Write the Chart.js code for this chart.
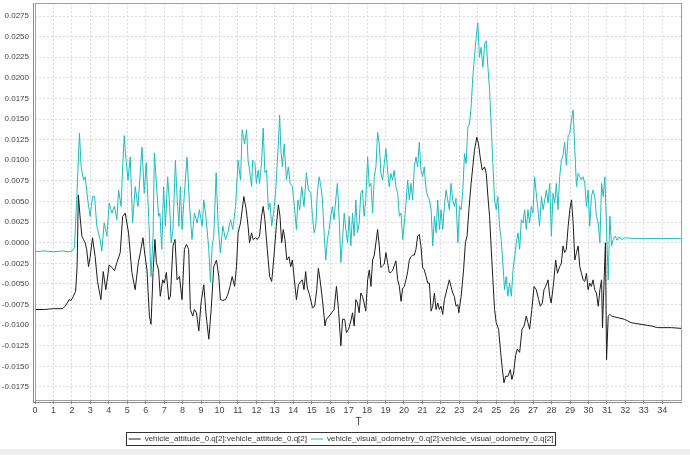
<!DOCTYPE html>
<html>
<head>
<meta charset="utf-8">
<script src="https://cdn.jsdelivr.net/npm/chart.js@4/dist/chart.umd.min.js"></script>
<style>
    body { margin: 0; background: #eeeeee; }
    canvas { display: block; background: #ffffff; }
</style>
</head>
<body>
<canvas id="chart" width="690" height="455"></canvas>
<script>
// Series labels
var labelAtt = 'vehicle_attitude_0.q[2]:vehicle_attitude_0.q[2]';
var labelVo = 'vehicle_visual_odometry_0.q[2]:vehicle_visual_odometry_0.q[2]';

// Tick labels
var xTicks = [0, 1, 2, 3, 4, 5, 6, 7, 8, 9, 10, 11, 12, 13, 14, 15, 16, 17, 18, 19, 20, 21, 22, 23, 24, 25, 26, 27, 28, 29, 30, 31, 32, 33, 34];
var yTicks = [-0.0175, -0.015, -0.0125, -0.01, -0.0075, -0.005, -0.0025, 0, 0.0025, 0.005, 0.0075, 0.01, 0.0125, 0.015, 0.0175, 0.02, 0.0225, 0.025, 0.0275];

// vehicle_attitude_0.q[2] (T, value)
var attT = [0, 0.5, 1.0, 1.5, 1.63, 1.75, 1.85, 1.95, 2.08, 2.2, 2.28, 2.35, 2.45, 2.54, 2.63, 2.72, 2.8, 2.9, 2.99, 3.12,
    3.26, 3.39, 3.57, 3.7, 3.84, 4.02, 4.17, 4.31, 4.44, 4.62, 4.75, 4.89, 5.07, 5.25, 5.43, 5.6, 5.71, 5.85, 5.97, 6.07,
    6.2, 6.29, 6.4, 6.5, 6.58, 6.7, 6.79, 6.92, 7.01, 7.12, 7.25, 7.34, 7.48, 7.59, 7.7, 7.83, 7.97, 8.1, 8.21, 8.33,
    8.42, 8.55, 8.64, 8.75, 8.88, 9.0, 9.15, 9.28, 9.42, 9.55, 9.69, 9.84, 9.96, 10.05, 10.18, 10.33, 10.45, 10.57, 10.69, 10.82,
    10.92, 11.01, 11.14, 11.23, 11.32, 11.45, 11.55, 11.63, 11.74, 11.82, 11.96, 12.05, 12.17, 12.28, 12.37, 12.46, 12.59, 12.72, 12.83, 12.95,
    13.08, 13.19, 13.28, 13.37, 13.46, 13.55, 13.65, 13.77, 13.86, 13.95, 14.06, 14.17, 14.28, 14.4, 14.49, 14.58, 14.67, 14.76, 14.88, 15.04,
    15.16, 15.27, 15.36, 15.45, 15.58, 15.72, 15.79, 15.94, 16.08, 16.21, 16.34, 16.45, 16.58, 16.67, 16.79, 16.88, 17.0, 17.12, 17.21, 17.3,
    17.39, 17.48, 17.57, 17.66, 17.75, 17.84, 17.93, 18.03, 18.12, 18.21, 18.3, 18.39, 18.48, 18.57, 18.66, 18.75, 18.84, 18.93, 19.02, 19.11,
    19.2, 19.29, 19.38, 19.47, 19.56, 19.66, 19.75, 19.84, 19.93, 20.02, 20.11, 20.2, 20.29, 20.38, 20.47, 20.56, 20.65, 20.74, 20.83, 20.92,
    21.01, 21.1, 21.2, 21.29, 21.38, 21.47, 21.56, 21.65, 21.74, 21.83, 21.92, 22.01, 22.1, 22.19, 22.28, 22.37, 22.46, 22.55, 22.64, 22.73,
    22.82, 22.92, 22.97, 23.1, 23.23, 23.33, 23.42, 23.52, 23.64, 23.73, 23.82, 23.95, 24.04, 24.13, 24.24, 24.37, 24.46, 24.55, 24.64, 24.73,
    24.82, 24.91, 25.0, 25.13, 25.24, 25.33, 25.42, 25.51, 25.64, 25.76, 25.85, 25.94, 26.05, 26.14, 26.27, 26.4, 26.51, 26.63, 26.72, 26.81,
    26.93, 27.05, 27.17, 27.3, 27.39, 27.5, 27.59, 27.68, 27.81, 27.9, 27.98, 28.11, 28.22, 28.32, 28.44, 28.53, 28.62, 28.71, 28.8, 28.9,
    28.99, 29.08, 29.17, 29.26, 29.35, 29.44, 29.53, 29.62, 29.71, 29.8, 29.89, 29.98, 30.07, 30.16, 30.25, 30.34, 30.43, 30.53, 30.62, 30.71,
    30.76, 30.83, 30.92, 30.98, 31.07, 31.16, 31.25, 31.6, 31.97, 32.3, 32.85, 33.4, 33.75, 34.5, 35.07];
var attQ = [-0.0081, -0.0081, -0.0080, -0.0080, -0.0077, -0.0073, -0.0069, -0.0070, -0.0065, -0.0059, -0.0030, 0.0058, 0.0030, 0.0008, 0.0004, 0.0000, -0.0008, -0.0029, -0.0017, 0.0006,
    -0.0017, -0.0047, -0.0069, -0.0035, -0.0057, -0.0027, -0.0030, -0.0034, -0.0024, -0.0012, 0.0032, 0.0036, 0.0012, -0.0036, -0.0057, -0.0024, -0.0012, 0.0006, -0.0017, -0.0033,
    -0.0089, -0.0099, -0.0036, 0.0004, -0.0024, -0.0033, -0.0065, -0.0045, -0.0049, -0.0036, -0.0069, -0.0065, -0.0004, 0.0004, -0.0045, -0.0041, -0.0069, -0.0008, -0.0002, -0.0008,
    -0.0081, -0.0089, -0.0081, -0.0085, -0.0107, -0.0073, -0.0051, -0.0089, -0.0117, -0.0081, -0.0029, -0.0021, -0.0041, -0.0069, -0.0070, -0.0069, -0.0063, -0.0053, -0.0041, -0.0053,
    -0.0029, 0.0012, 0.0024, 0.0040, 0.0056, 0.0040, 0.0020, 0.0000, 0.0012, 0.0004, 0.0006, 0.0004, 0.0008, 0.0032, 0.0044, 0.0028, -0.0008, -0.0041, -0.0047, -0.0017,
    0.0020, 0.0046, 0.0032, 0.0000, 0.0016, 0.0004, -0.0021, -0.0017, -0.0029, -0.0021, -0.0045, -0.0069, -0.0051, -0.0047, -0.0045, -0.0057, -0.0035, -0.0055, -0.0063, -0.0079,
    -0.0077, -0.0057, -0.0031, -0.0045, -0.0069, -0.0101, -0.0093, -0.0089, -0.0085, -0.0081, -0.0053, -0.0081, -0.0125, -0.0093, -0.0093, -0.0109, -0.0105, -0.0095, -0.0085, -0.0101,
    -0.0069, -0.0073, -0.0085, -0.0061, -0.0065, -0.0073, -0.0083, -0.0045, -0.0033, -0.0053, -0.0021, -0.0015, 0.0000, 0.0016, -0.0004, -0.0030, -0.0028, -0.0026, -0.0012, -0.0024,
    -0.0036, -0.0036, -0.0034, -0.0028, -0.0022, -0.0045, -0.0053, -0.0071, -0.0055, -0.0053, -0.0045, -0.0035, -0.0021, -0.0017, -0.0015, -0.0015, -0.0008, 0.0008, 0.0010, -0.0004,
    -0.0030, -0.0033, -0.0041, -0.0049, -0.0049, -0.0083, -0.0077, -0.0061, -0.0081, -0.0073, -0.0081, -0.0077, -0.0087, -0.0069, -0.0061, -0.0053, -0.0045, -0.0053, -0.0061, -0.0065,
    -0.0077, -0.0075, -0.0085, -0.0065, -0.0033, 0.0000, 0.0008, 0.0040, 0.0072, 0.0092, 0.0112, 0.0128, 0.0120, 0.0104, 0.0088, 0.0092, 0.0084, 0.0056, 0.0032, -0.0008,
    -0.0045, -0.0081, -0.0097, -0.0105, -0.0133, -0.0153, -0.0170, -0.0162, -0.0162, -0.0154, -0.0166, -0.0158, -0.0137, -0.0129, -0.0133, -0.0105, -0.0101, -0.0089, -0.0097, -0.0105,
    -0.0081, -0.0053, -0.0057, -0.0069, -0.0077, -0.0073, -0.0057, -0.0053, -0.0045, -0.0065, -0.0073, -0.0049, -0.0021, -0.0037, -0.0029, -0.0025, -0.0004, -0.0012, -0.0008, 0.0020,
    0.0040, 0.0052, 0.0024, -0.0021, -0.0012, -0.0004, -0.0029, -0.0037, -0.0045, -0.0047, -0.0037, -0.0057, -0.0049, -0.0053, -0.0045, -0.0057, -0.0061, -0.0077, -0.0057, -0.0045,
    -0.0103, -0.0057, 0.0000, -0.0142, -0.0089, -0.0087, -0.0089, -0.0091, -0.0093, -0.0097, -0.0099, -0.0101, -0.0103, -0.0103, -0.0104];

// vehicle_visual_odometry_0.q[2] (T, value)
var voT = [0, 0.5, 1.0, 1.5, 1.8, 2.0, 2.14, 2.26, 2.41, 2.5, 2.63, 2.72, 2.86, 2.99, 3.12, 3.23, 3.35, 3.53, 3.62, 3.75,
    3.9, 4.02, 4.17, 4.31, 4.44, 4.53, 4.67, 4.75, 4.84, 4.9, 5.04, 5.16, 5.29, 5.43, 5.58, 5.8, 5.92, 6.03, 6.16, 6.29,
    6.4, 6.47, 6.58, 6.7, 6.77, 6.87, 6.97, 7.07, 7.19, 7.3, 7.38, 7.48, 7.61, 7.7, 7.8, 7.88, 7.97, 8.1, 8.24, 8.37,
    8.51, 8.64, 8.79, 8.91, 9.06, 9.15, 9.28, 9.42, 9.51, 9.6, 9.69, 9.82, 9.93, 10.05, 10.18, 10.33, 10.45, 10.6, 10.72, 10.87,
    11.01, 11.14, 11.23, 11.36, 11.47, 11.55, 11.63, 11.74, 11.8, 11.92, 12.0, 12.1, 12.17, 12.28, 12.37, 12.46, 12.55, 12.65, 12.74, 12.83,
    12.95, 13.04, 13.13, 13.2, 13.26, 13.33, 13.41, 13.51, 13.63, 13.73, 13.83, 13.95, 14.06, 14.17, 14.25, 14.35, 14.46, 14.58, 14.71, 14.82,
    14.95, 15.04, 15.13, 15.22, 15.3, 15.4, 15.5, 15.58, 15.67, 15.76, 15.85, 15.94, 16.03, 16.12, 16.21, 16.3, 16.39, 16.49, 16.58, 16.67,
    16.76, 16.85, 16.94, 17.03, 17.12, 17.21, 17.3, 17.39, 17.48, 17.57, 17.66, 17.75, 17.84, 17.93, 18.03, 18.12, 18.21, 18.3, 18.39, 18.48,
    18.57, 18.66, 18.75, 18.84, 18.93, 19.02, 19.11, 19.2, 19.29, 19.38, 19.47, 19.56, 19.66, 19.75, 19.84, 19.93, 20.02, 20.11, 20.2, 20.29,
    20.38, 20.47, 20.56, 20.65, 20.74, 20.83, 20.92, 21.01, 21.1, 21.2, 21.29, 21.38, 21.47, 21.56, 21.65, 21.74, 21.83, 21.92, 22.01, 22.1,
    22.19, 22.28, 22.37, 22.46, 22.55, 22.64, 22.73, 22.82, 22.92, 23.01, 23.1, 23.19, 23.28, 23.37, 23.46, 23.55, 23.64, 23.73, 23.82, 23.91,
    24.0, 24.09, 24.18, 24.28, 24.37, 24.46, 24.55, 24.64, 24.73, 24.82, 24.91, 25.0, 25.09, 25.18, 25.27, 25.36, 25.45, 25.54, 25.63, 25.72,
    25.82, 25.91, 26.0, 26.09, 26.18, 26.27, 26.36, 26.45, 26.54, 26.63, 26.72, 26.81, 26.9, 26.99, 27.08, 27.17, 27.26, 27.35, 27.45, 27.54,
    27.63, 27.72, 27.81, 27.9, 27.99, 28.08, 28.17, 28.26, 28.35, 28.44, 28.53, 28.62, 28.71, 28.8, 28.9, 28.99, 29.08, 29.17, 29.26, 29.35,
    29.44, 29.53, 29.62, 29.71, 29.8, 29.89, 29.98, 30.07, 30.16, 30.25, 30.34, 30.43, 30.53, 30.62, 30.71, 30.8, 30.89, 30.98, 31.07, 31.16,
    31.25, 31.34, 31.45, 31.55, 31.65, 31.8, 32.0, 32.5, 33.0, 34.0, 35.07];
var voQ = [-0.0011, -0.0010, -0.0011, -0.0010, -0.0011, -0.0010, -0.0006, 0.0052, 0.0133, 0.0092, 0.0076, 0.0080, 0.0052, 0.0032, 0.0056, 0.0056, 0.0020, 0.0004, -0.0010, 0.0024,
    0.0008, 0.0048, 0.0036, 0.0044, 0.0028, 0.0064, 0.0044, 0.0092, 0.0130, 0.0109, 0.0076, 0.0104, 0.0024, 0.0068, 0.0044, 0.0116, 0.0060, 0.0097, 0.0032, -0.0041,
    0.0008, 0.0109, 0.0072, 0.0032, 0.0036, -0.0008, 0.0068, 0.0020, 0.0080, 0.0044, 0.0000, 0.0016, 0.0100, 0.0056, 0.0020, 0.0068, 0.0016, 0.0060, 0.0104, 0.0048,
    0.0004, 0.0036, 0.0024, 0.0040, 0.0020, 0.0052, 0.0028, -0.0008, -0.0048, -0.0004, 0.0008, 0.0085, 0.0020, -0.0012, 0.0020, 0.0004, 0.0012, 0.0028, 0.0016, 0.0044,
    0.0100, 0.0076, 0.0137, 0.0120, 0.0137, 0.0100, 0.0088, 0.0068, 0.0100, 0.0097, 0.0072, 0.0088, 0.0072, 0.0097, 0.0139, 0.0085, 0.0088, 0.0040, 0.0048, 0.0020,
    0.0040, 0.0060, 0.0097, 0.0124, 0.0155, 0.0112, 0.0092, 0.0120, 0.0076, 0.0092, 0.0072, 0.0068, 0.0044, 0.0016, 0.0052, 0.0040, 0.0068, 0.0044, 0.0085, 0.0064,
    0.0060, 0.0032, 0.0012, 0.0020, 0.0060, 0.0080, 0.0068, 0.0052, 0.0012, -0.0021, 0.0004, 0.0016, 0.0032, 0.0044, 0.0028, 0.0052, 0.0072, 0.0028, -0.0024, 0.0004,
    0.0036, 0.0016, 0.0000, 0.0032, -0.0004, 0.0036, 0.0008, 0.0052, 0.0012, 0.0024, 0.0060, 0.0064, 0.0032, 0.0052, 0.0104, 0.0068, 0.0072, 0.0036, 0.0080, 0.0092,
    0.0134, 0.0120, 0.0084, 0.0076, 0.0096, 0.0114, 0.0088, 0.0068, 0.0084, 0.0076, 0.0088, 0.0068, 0.0060, 0.0032, 0.0036, 0.0004, 0.0024, 0.0048, 0.0076, 0.0052,
    0.0072, 0.0052, 0.0092, 0.0104, 0.0092, 0.0122, 0.0088, 0.0080, 0.0092, 0.0064, 0.0056, 0.0052, 0.0040, -0.0004, 0.0032, 0.0012, 0.0052, 0.0016, 0.0040, 0.0016,
    0.0044, 0.0064, 0.0052, 0.0040, 0.0072, 0.0052, 0.0044, 0.0054, 0.0000, 0.0044, 0.0040, 0.0064, 0.0108, 0.0096, 0.0140, 0.0144, 0.0165, 0.0201, 0.0225, 0.0249,
    0.0267, 0.0225, 0.0237, 0.0213, 0.0241, 0.0245, 0.0213, 0.0185, 0.0140, 0.0096, 0.0052, 0.0040, 0.0056, 0.0020, 0.0004, -0.0025, -0.0057, -0.0041, -0.0065, -0.0049,
    -0.0065, -0.0033, -0.0017, 0.0000, 0.0012, -0.0008, 0.0028, 0.0024, 0.0040, 0.0016, 0.0040, 0.0024, 0.0044, 0.0036, 0.0080, 0.0060, 0.0040, 0.0020, 0.0056, 0.0040,
    0.0052, 0.0064, 0.0048, 0.0072, 0.0008, 0.0060, 0.0048, 0.0072, 0.0040, 0.0080, 0.0100, 0.0106, 0.0122, 0.0094, 0.0130, 0.0133, 0.0149, 0.0161, 0.0113, 0.0068,
    0.0084, 0.0080, 0.0076, 0.0080, 0.0072, 0.0044, 0.0064, 0.0020, 0.0056, 0.0064, 0.0056, 0.0032, 0.0024, 0.0000, 0.0072, 0.0056, 0.0080, 0.0016, -0.0045, 0.0032,
    -0.0004, 0.0004, 0.0008, 0.0003, 0.0007, 0.0004, 0.0006, 0.0005, 0.0005, 0.0005, 0.0005];

var fontFamily = '"Liberation Sans", Arial, sans-serif';

// Build points
function toPoints(ts, vs) {
    return ts.map(function (t, i) { return { x: t, y: vs[i] }; });
}

// Plot frame, axis lines and the grey window strip at the bottom
var framePlugin = {
    id: 'frame',
    afterDatasetsDraw: function (chart) {
        var a = chart.chartArea;
        var ctx = chart.ctx;
        ctx.save();
        ctx.lineWidth = 1;
        ctx.strokeStyle = '#a0a0a0';
        ctx.strokeRect(a.left + 0.5, a.top + 0.5, a.right - a.left - 1, a.bottom - a.top - 1);
        ctx.strokeStyle = '#8c8c8c';
        ctx.beginPath();
        ctx.moveTo(a.left - 1.5, a.top);
        ctx.lineTo(a.left - 1.5, a.bottom + 2);
        ctx.moveTo(a.left - 1.5, a.bottom + 1.5);
        ctx.lineTo(a.right, a.bottom + 1.5);
        ctx.stroke();
        ctx.restore();
    },
    afterDraw: function (chart) {
        var ctx = chart.ctx;
        ctx.save();
        ctx.fillStyle = '#eeeeee';
        ctx.fillRect(0, 449, chart.width, chart.height - 449);
        ctx.restore();
    }
};

// Border round the legend
var legendBoxPlugin = {
    id: 'legendBox',
    afterDraw: function (chart) {
        var boxes = chart.legend.legendHitBoxes;
        if (!boxes || !boxes.length) return;
        var left = Infinity, right = -Infinity, top = Infinity, bottom = -Infinity;
        boxes.forEach(function (b) {
            left = Math.min(left, b.left);
            right = Math.max(right, b.left + b.width);
            top = Math.min(top, b.top);
            bottom = Math.max(bottom, b.top + b.height);
        });
        var ctx = chart.ctx;
        ctx.save();
        ctx.lineWidth = 1;
        ctx.strokeStyle = '#333333';
        ctx.strokeRect(Math.round(left) - 2.5, Math.round(top) - 2.5, Math.round(right - left) + 4, Math.round(bottom - top) + 5);
        ctx.restore();
    }
};

new Chart(document.getElementById('chart').getContext('2d'), {
    type: 'line',
    data: {
        datasets: [{
            label: labelAtt,
            data: toPoints(attT, attQ),
            borderColor: '#1c1c1c',
            backgroundColor: '#1c1c1c',
            borderWidth: 1,
            pointRadius: 0,
            pointStyle: 'line',
            tension: 0
        }, {
            label: labelVo,
            data: toPoints(voT, voQ),
            borderColor: '#1cbcbf',
            backgroundColor: '#1cbcbf',
            borderWidth: 1,
            pointRadius: 0,
            pointStyle: 'line',
            tension: 0
        }]
    },
    options: {
        responsive: false,
        animation: false,
        events: [],
        layout: {
            padding: { left: 0, right: 8, top: 3, bottom: 2 }
        },
        plugins: {
            tooltip: { enabled: false },
            legend: {
                position: 'bottom',
                labels: {
                    usePointStyle: true,
                    pointStyleWidth: 12,
                    padding: 4,
                    color: '#333333',
                    font: { family: fontFamily, size: 8 }
                }
            }
        },
        scales: {
            x: {
                type: 'linear',
                min: 0,
                max: 35.07,
                afterBuildTicks: function (scale) {
                    scale.ticks = xTicks.map(function (v) { return { value: v }; });
                },
                afterFit: function (scale) {
                    scale.height = 30;
                    scale.paddingLeft = 0;
                    scale.paddingRight = 0;
                },
                ticks: {
                    autoSkip: false,
                    maxRotation: 0,
                    padding: 1,
                    color: '#444444',
                    font: { family: fontFamily, size: 9 },
                    callback: function (v) { return v; }
                },
                grid: {
                    color: '#d9d9d9',
                    tickColor: '#8c8c8c',
                    tickLength: 3,
                    tickBorderDash: []
                },
                border: { display: false, dash: [2, 2] },
                title: {
                    display: true,
                    text: 'T',
                    color: '#444444',
                    padding: { top: 0, bottom: 3 },
                    font: { family: fontFamily, size: 10 }
                }
            },
            y: {
                type: 'linear',
                min: -0.0192,
                max: 0.02908,
                afterBuildTicks: function (scale) {
                    scale.ticks = yTicks.map(function (v) { return { value: v }; });
                },
                afterFit: function (scale) {
                    scale.width = 35;
                    scale.paddingTop = 0;
                    scale.paddingBottom = 0;
                },
                ticks: {
                    padding: 6,
                    color: '#444444',
                    font: { family: fontFamily, size: 8 },
                    callback: function (v) { return v.toFixed(4); }
                },
                grid: {
                    color: '#d9d9d9',
                    drawTicks: false
                },
                border: { display: false, dash: [2, 2] }
            }
        }
    },
    plugins: [framePlugin, legendBoxPlugin]
});
</script>
</body>
</html>
